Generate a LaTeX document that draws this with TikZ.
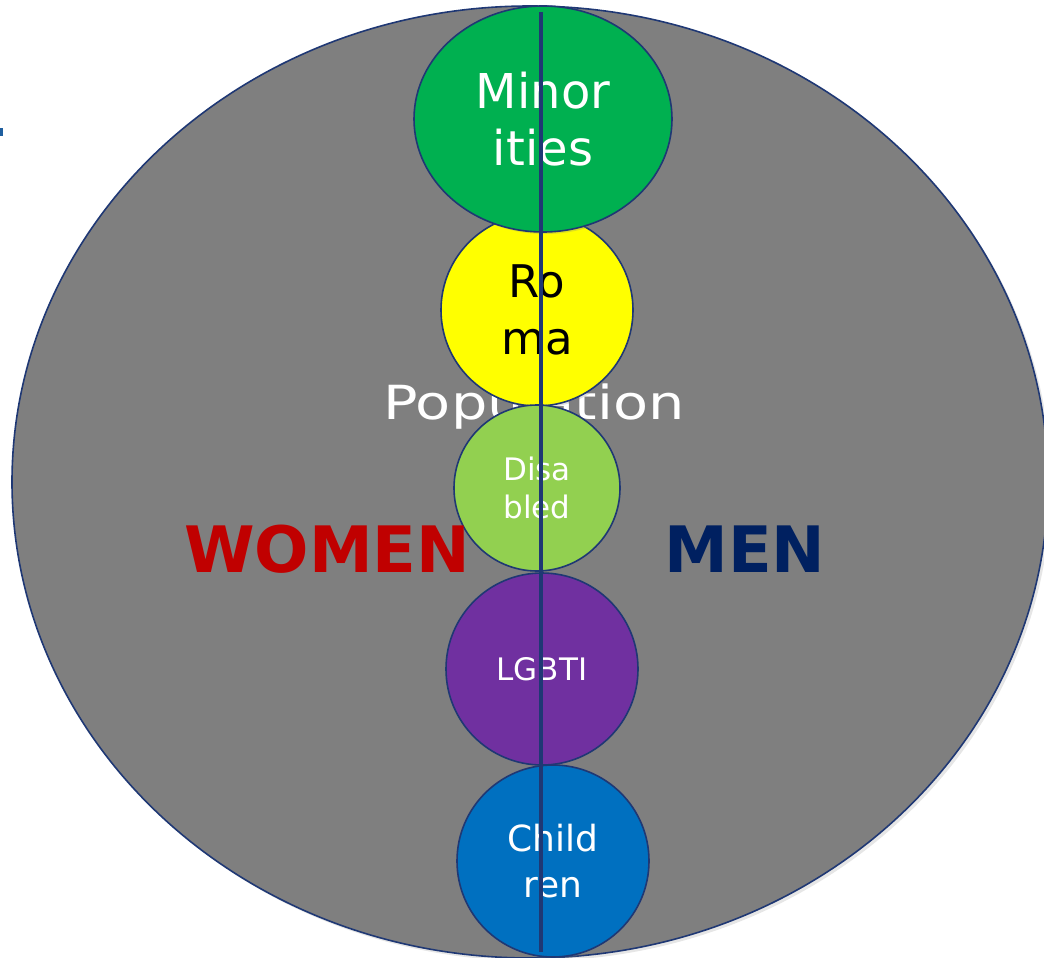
\documentclass[tikz,border=0pt]{standalone}
\usepackage{fontspec}
\usepackage{graphicx}
\setmainfont{DejaVu Sans}
\usetikzlibrary{shapes.geometric}
\usetikzlibrary{shadows}

\definecolor{navyline}{HTML}{1F3874}
\definecolor{popgray}{HTML}{7F7F7F}
\definecolor{minorgreen}{HTML}{00B050}
\definecolor{romayellow}{HTML}{FFFF00}
\definecolor{disabgreen}{HTML}{92D050}
\definecolor{lgbtipurple}{HTML}{7030A0}
\definecolor{childblue}{HTML}{0070C0}
\definecolor{womenred}{HTML}{C00000}
\definecolor{mennavy}{HTML}{002060}

\begin{document}
\begin{tikzpicture}[x=1pt,y=-1pt,
	group/.style={circle,draw=navyline,line width=1.6pt,inner sep=0pt,align=center,text=white,
		drop shadow={opacity=0.25,shadow xshift=2pt,shadow yshift=-2pt}},
	sex/.style={font=\fontsize{64}{64}\selectfont\bfseries}]
	\useasboundingbox (0,0) rectangle (1044,958);
	\clip (0,0) rectangle (1044,958);
	\fill[color={rgb,255:red,31;green,95;blue,159}] (0,128) rectangle (3,136);
	\node[ellipse,fill=popgray,draw=navyline,line width=1.6pt,minimum width=1036pt,minimum height=952pt,
		drop shadow={opacity=0.2,shadow xshift=3pt,shadow yshift=-3pt}] (pop) at (530,482) {};
	\node[text=white,anchor=base,font=\fontsize{47}{47}\selectfont] (poplabel) at (534,419) {\scalebox{1.22}[1]{Population}};
	\node[group,fill=romayellow,text=black,minimum size=192pt,font=\fontsize{45}{57}\selectfont] (roma) at (537,310) {Ro\\ma};
	\node[group,ellipse,fill=minorgreen,minimum width=258pt,minimum height=226pt,font=\fontsize{48}{57}\selectfont] (minor) at (543,119) {Minor\\ities};
	\node[group,fill=disabgreen,minimum size=166pt,font=\fontsize{31}{38}\selectfont] (disab) at (537,488) {Disa\\bled};
	\node[group,fill=lgbtipurple,minimum size=192pt,font=\fontsize{31}{31}\selectfont] (lgbti) at (542,669) {LGBTI};
	\node[group,fill=childblue,minimum size=192pt,font=\fontsize{36}{46}\selectfont] (child) at (553,861) {Child\\ren};
	\coordinate (top) at (541,12);
	\coordinate (bottom) at (541,952);
	\draw[navyline,line width=4.5pt] (top) -- (bottom);
	\node[sex,text=womenred] (women) at (327,549) {WOMEN};
	\node[sex,text=mennavy] (men) at (745,549) {MEN};
\end{tikzpicture}
\end{document}
